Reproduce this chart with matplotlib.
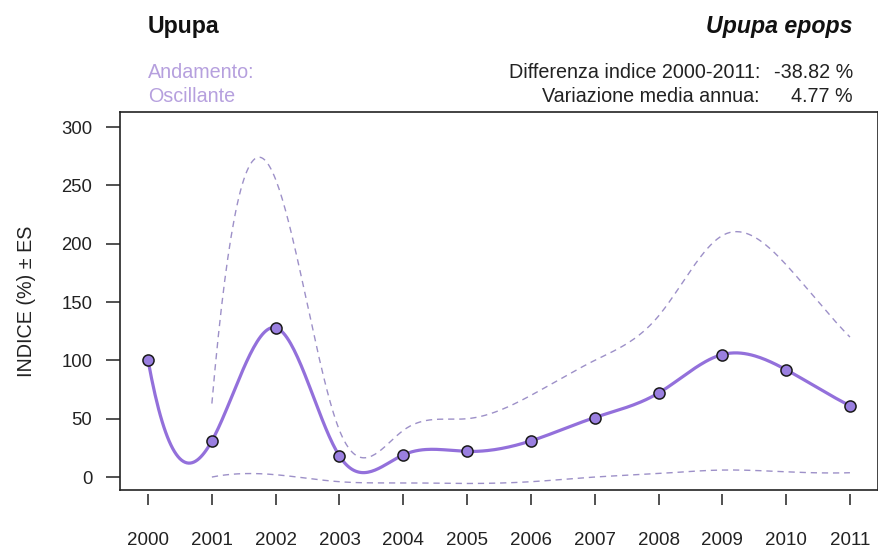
import numpy as np
import matplotlib
matplotlib.use("Agg")
import matplotlib.pyplot as plt

# Annual index values (%), with upper and lower standard-error bounds
years = [2000, 2001, 2002, 2003, 2004, 2005, 2006, 2007, 2008, 2009, 2010, 2011]
index = [100, 31, 128, 18, 19, 22, 31, 51, 72, 105, 92, 61.18]
se_years = [2001, 2002, 2003, 2004, 2005, 2006, 2007, 2008, 2009, 2010, 2011]
upper = [63, 255, 40, 40, 50, 70, 100, 138, 207, 182, 120]
lower = [0, 2, -4, -5, -5.5, -4, 0, 3, 6, 4.5, 3.7]
y_ticks = [0, 50, 100, 150, 200, 250, 300]

title_left = "Upupa"
title_right = "Upupa epops"
trend_label = "Andamento:"
trend_value = "Oscillante"
stat_labels = ["Differenza indice 2000-2011:", "Variazione media annua:"]
stat_values = ["-38.82 %", "4.77 %"]

PURPLE = "#9370DB"
DASH = "#9d90c8"
LIGHT = "#b6a0de"


def fmm_spline(x, y, n_out=400):
    """Interpolating cubic spline (Forsythe-Malcolm-Moler end conditions)."""
    x = np.asarray(x, float)
    y = np.asarray(y, float)
    n = len(x)
    # 1-based working arrays
    X = np.concatenate([[0.0], x])
    Y = np.concatenate([[0.0], y])
    b = np.zeros(n + 1)
    c = np.zeros(n + 1)
    d = np.zeros(n + 1)
    nm1 = n - 1
    d[1] = X[2] - X[1]
    c[2] = (Y[2] - Y[1]) / d[1]
    for i in range(2, n):
        d[i] = X[i + 1] - X[i]
        b[i] = 2.0 * (d[i - 1] + d[i])
        c[i + 1] = (Y[i + 1] - Y[i]) / d[i]
        c[i] = c[i + 1] - c[i]
    b[1] = -d[1]
    b[n] = -d[nm1]
    c[1] = c[n] = 0.0
    if n > 3:
        c[1] = c[3] / (X[4] - X[2]) - c[2] / (X[3] - X[1])
        c[n] = c[nm1] / (X[n] - X[n - 2]) - c[n - 2] / (X[nm1] - X[n - 3])
        c[1] = c[1] * d[1] * d[1] / (X[4] - X[1])
        c[n] = -c[n] * d[nm1] * d[nm1] / (X[n] - X[n - 3])
    for i in range(2, n + 1):
        t = d[i - 1] / b[i - 1]
        b[i] = b[i] - t * d[i - 1]
        c[i] = c[i] - t * c[i - 1]
    c[n] = c[n] / b[n]
    for i in range(nm1, 0, -1):
        c[i] = (c[i] - d[i] * c[i + 1]) / b[i]
    b[n] = (Y[n] - Y[n - 1]) / d[n - 1] + d[n - 1] * (c[n - 1] + 2.0 * c[n])
    for i in range(1, n):
        b[i] = (Y[i + 1] - Y[i]) / d[i] - d[i] * (c[i + 1] + 2.0 * c[i])
        d[i] = (c[i + 1] - c[i]) / d[i]
        c[i] = 3.0 * c[i]
    c[n] = 3.0 * c[n]
    d[n] = d[nm1]

    xs = np.linspace(x[0], x[-1], n_out)
    idx = np.clip(np.searchsorted(x, xs, side="right") - 1, 0, n - 2)
    dx = xs - x[idx]
    k = idx + 1
    ys = Y[k] + dx * (b[k] + dx * (c[k] + dx * d[k]))
    return xs, ys


plt.rcParams["font.family"] = ["Liberation Sans", "DejaVu Sans"]

fig = plt.figure(figsize=(8.79, 5.51), dpi=100)
ax = fig.add_axes([120 / 879, 1 - 490 / 551, 758 / 879, 378 / 551])

# Confidence band (dashed) and smoothed index curve
ux, uy = fmm_spline(se_years, upper)
lx, ly = fmm_spline(se_years, lower)
ax.plot(ux, uy, color=DASH, lw=1.0, ls=(0, (4.5, 3.5)))
ax.plot(lx, ly, color=DASH, lw=1.0, ls=(0, (4.5, 3.5)))

sx, sy = fmm_spline(years, index)
ax.plot(sx, sy, color=PURPLE, lw=2.3, solid_capstyle="round", zorder=3)
ax.plot(years, index, ls="none", marker="o", ms=8, mfc="#9a7fe0",
        mec="#1a1a1a", mew=1.1, zorder=4)

ax.set_xlim(1999.56, 2011.44)
ax.set_ylim(-11.1, 312.9)

for side in ["left", "bottom", "top", "right"]:
    ax.spines[side].set_linewidth(1.2)
    ax.spines[side].set_color("#222222")

ax.set_yticks(y_ticks)
ax.tick_params(axis="y", direction="out", length=10, width=1.1,
               pad=10, labelsize=13.3, colors="#222222")
ax.set_xticks([])

# Year ticks sit slightly below the frame
sec = ax.secondary_xaxis(-0.011)
sec.spines["bottom"].set_visible(False)
sec.set_xticks(years)
sec.set_xticklabels([str(y) for y in years])
sec.tick_params(axis="x", direction="out", length=8, width=1.1,
                pad=19, labelsize=13.5, colors="#222222")

ax.set_ylabel("INDICE (%) \u00b1 ES", fontsize=14.2, color="#222222", labelpad=18)

# Header texts
fig.text(148 / 879, 1 - 27 / 551, title_left, fontsize=16.7, fontweight="bold",
         ha="left", va="center", color="#111111")
fig.text(853 / 879, 1 - 27 / 551, title_right, fontsize=16.7, fontweight="bold",
         fontstyle="italic", ha="right", va="center", color="#111111")
fig.text(148 / 879, 1 - 72 / 551, trend_label, fontsize=14.2, ha="left",
         va="center", color=LIGHT)
fig.text(148 / 879, 1 - 97 / 551, trend_value, fontsize=14.2, ha="left",
         va="center", color=LIGHT)
for i, (lab, val) in enumerate(zip(stat_labels, stat_values)):
    yy = 1 - (72 + 25 * i) / 551
    fig.text(760 / 879, yy, lab, fontsize=14.2, ha="right", va="center",
             color="#222222")
    fig.text(853 / 879, yy, val, fontsize=14.2, ha="right", va="center",
             color="#222222")

fig.savefig("out.png", dpi=100)
